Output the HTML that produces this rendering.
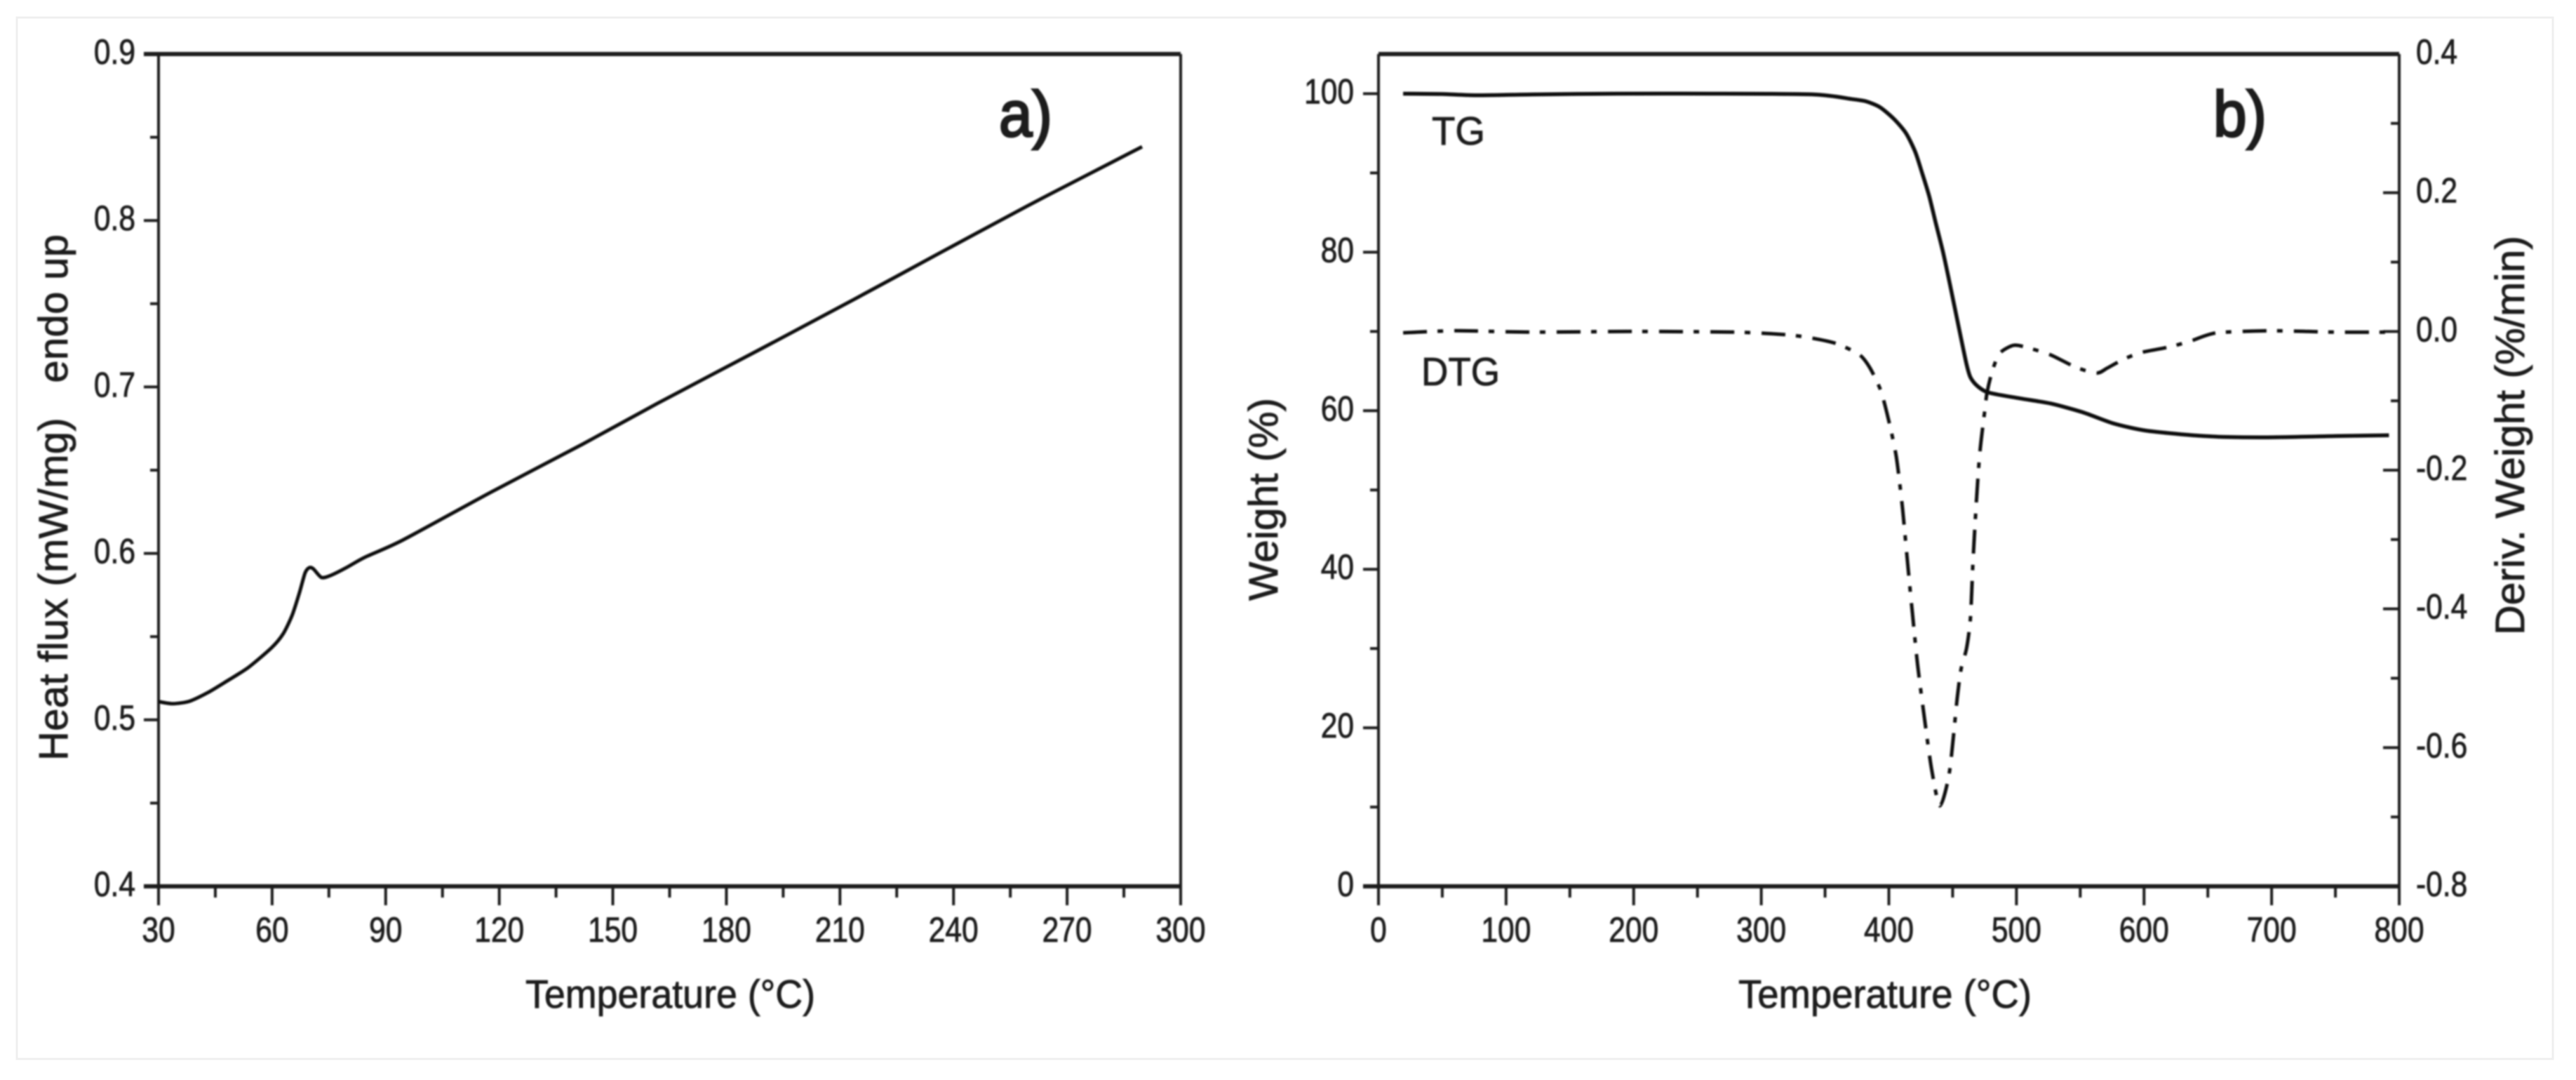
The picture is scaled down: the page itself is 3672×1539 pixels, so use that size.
<!DOCTYPE html>
<html lang="en">
<head>
<meta charset="utf-8">
<title>DSC and TG/DTG thermal analysis charts</title>
<style>
  html, body { margin: 0; padding: 0; background: #fff; }
  svg { display: block; }
  text { font-family: "Liberation Sans", Arial, sans-serif; fill: #1a1a1a; stroke: #1a1a1a; stroke-width: 0.8px; }
</style>
</head>
<body>
<svg id="figure" xmlns="http://www.w3.org/2000/svg" width="3672" height="1539" viewBox="0 0 3672 1539">
  <defs>
    <filter id="soft" x="-2%" y="-2%" width="104%" height="104%"><feGaussianBlur stdDeviation="1"/></filter>
  </defs>
  <rect x="0" y="0" width="3672" height="1539" fill="#ffffff"/>
  <rect x="24" y="25" width="3615" height="1484" fill="#ffffff" stroke="#efefef" stroke-width="3"/>
  <g id="content" filter="url(#soft)">
    <g id="panelA"></g>
    <g id="panelB"></g>
    <text x="1424" y="194" font-size="92" style="stroke-width:3px" textLength="76" lengthAdjust="spacingAndGlyphs">a)</text>
    <text x="3155" y="194" font-size="92" style="stroke-width:3px" textLength="76" lengthAdjust="spacingAndGlyphs">b)</text>
    <text x="2041" y="206" font-size="57" textLength="76" lengthAdjust="spacingAndGlyphs">TG</text>
    <text x="2026" y="549" font-size="57" textLength="112" lengthAdjust="spacingAndGlyphs">DTG</text>
    <text x="749" y="1436" font-size="57" textLength="413" lengthAdjust="spacingAndGlyphs">Temperature (°C)</text>
    <text x="2478" y="1436" font-size="57" textLength="418" lengthAdjust="spacingAndGlyphs">Temperature (°C)</text>
    <text transform="translate(96,1084) rotate(-90)" font-size="58" textLength="750" lengthAdjust="spacing" xml:space="preserve">Heat flux (mW/mg)   endo up</text>
    <text transform="translate(1821,856) rotate(-90)" font-size="58" textLength="289" lengthAdjust="spacingAndGlyphs">Weight (%)</text>
    <text transform="translate(3598,905) rotate(-90)" font-size="58" textLength="569" lengthAdjust="spacingAndGlyphs">Deriv. Weight (%/min)</text>
  </g>
</svg>
<script>
// ---- Panel a data ----
const dscTemperature = [30.1, 33.8, 38.2, 43.1, 47.4, 53.6, 59.8, 62.9, 65.3, 67.2, 68.7, 69.8, 70.9, 73, 75.2, 79.5, 84.5, 94.5, 118, 142, 161.7, 188, 213.8, 236, 259.4, 275, 289.8];
const dscHeatFlux = [0.5109, 0.5097, 0.5112, 0.5165, 0.5224, 0.5313, 0.5432, 0.5516, 0.5629, 0.5762, 0.5882, 0.5914, 0.5907, 0.5856, 0.5865, 0.5913, 0.5977, 0.608, 0.637, 0.6656, 0.690, 0.7215, 0.7527, 0.780, 0.8086, 0.827, 0.8443];
const dscXTicks = [30, 60, 90, 120, 150, 180, 210, 240, 270, 300];
const dscXMinorTicks = [45, 75, 105, 135, 165, 195, 225, 255, 285];
const dscYTicks = [0.4, 0.5, 0.6, 0.7, 0.8, 0.9];
const dscYMinorTicks = [0.45, 0.55, 0.65, 0.75, 0.85];

// ---- Panel b data ----
const tgTemperature = [19.3, 50, 77, 120, 187, 260, 341, 371, 382, 393, 404, 413.3, 420.6, 426, 431.6, 437, 442.5, 448, 461, 466, 477, 502.7, 527, 552, 576, 601, 638, 662, 702, 750, 792];
const tgWeight = [100, 99.95, 99.8, 99.9, 100, 100, 99.9, 99.32, 99.03, 98.29, 96.8, 95.04, 92.68, 90.02, 87.07, 83.52, 79.98, 75.85, 65.8, 63.7, 62.35, 61.56, 60.9, 59.8, 58.4, 57.5, 56.9, 56.7, 56.65, 56.8, 56.9];
const dtgTemperature = [19.3, 60, 120, 200, 280, 319, 338, 358, 376.6, 385, 393.6, 399.7, 405.8, 410.7, 414.5, 418.4, 422.5, 427.7, 433.5, 440, 447.5, 453.6, 456.6, 461, 464, 466, 468.5, 471.3, 475.3, 477, 480.6, 486.6, 497.8, 510, 527, 547, 563, 571, 584, 598.5, 620.7, 637.7, 657, 700, 750, 792];
const dtgDeriv = [-0.002, 0.001, -0.001, 0, -0.001, -0.0046, -0.009, -0.017, -0.033, -0.052, -0.085, -0.127, -0.18, -0.255, -0.33, -0.405, -0.48, -0.555, -0.631, -0.684, -0.635, -0.528, -0.487, -0.456, -0.412, -0.33, -0.248, -0.175, -0.112, -0.088, -0.06, -0.032, -0.02, -0.024, -0.034, -0.052, -0.06, -0.053, -0.04, -0.03, -0.022, -0.013, -0.002, 0.001, -0.001, -0.001];
const tgXTicks = [0, 100, 200, 300, 400, 500, 600, 700, 800];
const tgXMinorTicks = [50, 150, 250, 350, 450, 550, 650, 750];
const weightTicks = [0, 20, 40, 60, 80, 100];
const weightMinorTicks = [10, 30, 50, 70, 90];
const derivTicks = ["-0.8", "-0.6", "-0.4", "-0.2", "0.0", "0.2", "0.4"];
const derivMinorTicks = [-0.7, -0.5, -0.3, -0.1, 0.1, 0.3];

const NS = 'http://www.w3.org/2000/svg';
const INK = '#1c1c1c';
const panelA = document.getElementById('panelA');
const panelB = document.getElementById('panelB');

// axis functions
function linear(d0, d1, r0, r1) { return v => r0 + (v - d0) * (r1 - r0) / (d1 - d0); }
const axTop = 77, axBottom = 1263;
const ax = linear(30, 300, 226, 1683);
const ay = linear(0.4, 0.9, axBottom, axTop);
const bx = linear(0, 800, 1965, 3420);
const byW = linear(0, 105, axBottom, axTop);
const byD = linear(-0.8, 0.4, axBottom, axTop);

function line(parent, x1, y1, x2, y2, w) {
  const el = document.createElementNS(NS, 'line');
  el.setAttribute('x1', x1); el.setAttribute('y1', y1);
  el.setAttribute('x2', x2); el.setAttribute('y2', y2);
  el.setAttribute('stroke', INK); el.setAttribute('stroke-width', w);
  parent.appendChild(el);
  return el;
}
function label(parent, str, x, y, anchor) {
  const el = document.createElementNS(NS, 'text');
  el.setAttribute('transform', 'translate(' + x + ',' + y + ') scale(0.85,1)');
  el.setAttribute('font-size', '50');
  el.setAttribute('text-anchor', anchor);
  el.textContent = str;
  parent.appendChild(el);
  return el;
}
function curvePath(xs, ys, sx, sy) {
  const p = xs.map((v, i) => [sx(v), sy(ys[i])]);
  let d = 'M' + p[0][0].toFixed(1) + ' ' + p[0][1].toFixed(1);
  const k = 1 / 8;
  for (let i = 0; i < p.length - 1; i++) {
    const a = p[Math.max(i - 1, 0)], b = p[i], c = p[i + 1], e = p[Math.min(i + 2, p.length - 1)];
    d += 'C' + (b[0] + (c[0] - a[0]) * k).toFixed(1) + ' ' + (b[1] + (c[1] - a[1]) * k).toFixed(1) + ' ' +
         (c[0] - (e[0] - b[0]) * k).toFixed(1) + ' ' + (c[1] - (e[1] - b[1]) * k).toFixed(1) + ' ' +
         c[0].toFixed(1) + ' ' + c[1].toFixed(1);
  }
  return d;
}
function curve(parent, d, w, dash) {
  const el = document.createElementNS(NS, 'path');
  el.setAttribute('d', d);
  el.setAttribute('fill', 'none');
  el.setAttribute('stroke', '#111');
  el.setAttribute('stroke-width', w);
  el.setAttribute('stroke-linejoin', 'round');
  if (dash) el.setAttribute('stroke-dasharray', dash);
  parent.appendChild(el);
  return el;
}

// ---------- Panel a ----------
let el;
el = line(panelA, 226, axTop, 226, axBottom, 4);


el = line(panelA, 1683, axTop, 1683, axBottom, 4);


el = line(panelA, 205, axTop, 1683, axTop, 6);


el = line(panelA, 205, axBottom, 1683, axBottom, 6);



dscXTicks.forEach(t => {
  const tick = line(panelA, ax(t), axBottom, ax(t), axBottom + 27, 4);
  
  
  const lab = label(panelA, String(t), ax(t), 1342, 'middle');
  
  
});
dscXMinorTicks.forEach(t => {
  const tick = line(panelA, ax(t), axBottom, ax(t), axBottom + 16, 4);
  
  
});
dscYTicks.forEach(t => {
  const tick = line(panelA, 205, ay(t), 226, ay(t), 4);
  
  
  const lab = label(panelA, t.toFixed(1), 193, ay(t) + 14, 'end');
  
  
});
dscYMinorTicks.forEach(t => {
  const tick = line(panelA, 214, ay(t), 226, ay(t), 4);
  
  
});
el = curve(panelA, curvePath(dscTemperature, dscHeatFlux, ax, ay), 5);



// ---------- Panel b ----------
el = line(panelB, 1965, axTop, 1965, axBottom, 4);


el = line(panelB, 3420, axTop, 3420, axBottom, 4);


el = line(panelB, 1965, axTop, 3420, axTop, 6);


el = line(panelB, 1943, axBottom, 3420, axBottom, 6);



tgXTicks.forEach(t => {
  const tick = line(panelB, bx(t), axBottom, bx(t), axBottom + 27, 4);
  
  
  const lab = label(panelB, String(t), bx(t), 1342, 'middle');
  
  
});
tgXMinorTicks.forEach(t => {
  const tick = line(panelB, bx(t), axBottom, bx(t), axBottom + 16, 4);
  
  
});
weightTicks.forEach(t => {
  const tick = line(panelB, 1943, byW(t), 1965, byW(t), 4);
  
  
  const lab = label(panelB, String(t), 1930, byW(t) + 14, 'end');
  
  
});
weightMinorTicks.forEach(t => {
  const tick = line(panelB, 1953, byW(t), 1965, byW(t), 4);
  
  
});
derivTicks.forEach(t => {
  const v = parseFloat(t);
  const tick = line(panelB, 3397, byD(v), 3420, byD(v), 4);
  
  
  const lab = label(panelB, t, 3444, byD(v) + 14, 'start');
  
  
});
derivMinorTicks.forEach(t => {
  const tick = line(panelB, 3408, byD(t), 3420, byD(t), 4);
  
  
});
el = curve(panelB, curvePath(tgTemperature, tgWeight, bx, byW), 5.5);


el = curve(panelB, curvePath(dtgTemperature, dtgDeriv, bx, byD), 5, '34 15 8 16');


</script>
</body>
</html>
